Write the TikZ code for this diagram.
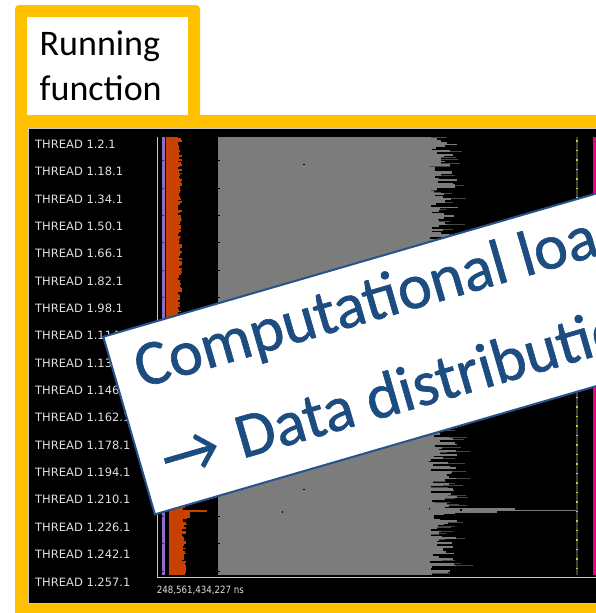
\documentclass[tikz,border=0pt]{standalone}
\usepackage{fontspec}
\newfontfamily\calib{Carlito}
\newfontfamily\calibnote{Carlito}[FakeBold=1]
\newfontfamily\tracefont{DejaVu Sans}
\newfontfamily\axisfont{DejaVu Sans}[FakeStretch=0.865]

\definecolor{frameyellow}{RGB}{255,192,0}
\definecolor{notenavy}{RGB}{28,76,128}
\definecolor{noteedge}{RGB}{40,82,140}
\definecolor{burstgray}{RGB}{124,124,124}
\definecolor{edgegray}{RGB}{70,70,70}
\definecolor{mpiorange}{RGB}{200,65,0}
\definecolor{lavender}{RGB}{140,110,200}
\definecolor{axisgray}{RGB}{200,200,200}
\definecolor{labelgray}{RGB}{225,225,225}
\definecolor{limegreen}{RGB}{200,215,0}
\definecolor{railgray}{RGB}{64,64,64}

\tikzset{
  tabtext/.style={anchor=base west, inner sep=0pt, text=black,
    font=\calib\fontsize{36}{40}\selectfont},
  threadlabel/.style={anchor=base west, inner sep=0pt, text=labelgray,
    font=\tracefont\fontsize{11.5}{12}\selectfont},
  notebox/.style={fill=white, draw=noteedge, line width=2pt},
  notetext/.style={anchor=base west, inner sep=0pt, text=notenavy,
    font=\calibnote\fontsize{64}{70}\selectfont},
}

\begin{document}
\begin{tikzpicture}[x=1pt,y=-1pt]
\useasboundingbox (0,0) rectangle (596,613);
\clip (0,0) rectangle (596,613);
\fill[white] (0,0) rectangle (596,613);

% yellow frame with its title tab
\fill[frameyellow, rounded corners=4pt] (15,5) rectangle (200,130);
\fill[frameyellow] (15,115) rectangle (620,630);
\fill[white] (27,17) rectangle (188,115);
\node[tabtext] (tab1) at (39.5,55) {Running};
\node[tabtext] (tab2) at (39.5,100) {function};

% trace viewer window
\fill[black] (27.5,127.5) rectangle (620,603.5);
\draw[axisgray, line width=1pt] (28,128) rectangle (620,603);

% thread labels
\foreach \t [count=\k from 0] in {2,18,34,50,66,82,98,114,130,146,162,178,194,210,226,242,257}{
  \node[threadlabel] (thr\t) at (35,148.3+27.36*\k) {THREAD 1.\t.1};
}

% per-thread states: orange start-up phase, grey computing burst
\pgfmathsetseed{2024}
\foreach \i in {0,...,256}{
  \pgfmathsetmacro{\ya}{136.7+1.705*\i}
  \pgfmathsetmacro{\gr}{428+30*rnd}
  \pgfmathsetmacro{\dk}{rnd>0.6 ? \gr+5+15*rnd : \gr}
  \fill[burstgray] (218,\ya) rectangle (\gr,\ya+1.75);
  \fill[edgegray] (\gr,\ya+0.3) rectangle (\dk,\ya+1.3);
  \pgfmathsetmacro{\ol}{\ya<400 ? 165.5 : 169}
  \pgfmathsetmacro{\orr}{(\ya<400 ? 177.5 : 182)+5*rnd}
  \fill[mpiorange] (\ol,\ya) rectangle (\orr,\ya+1.75);
}
% long-running thread
\fill[mpiorange] (180,509.5) rectangle (207,512);
\fill[mpiorange] (180,512) rectangle (190,518);
\fill[burstgray] (430,508.3) rectangle (515,511);
\fill[burstgray] (430,511) rectangle (497,513);
\draw[burstgray, line width=0.9pt] (515,510.7) -- (577,510.7);

% small markers inside the burst
\foreach \p in {(304,164.3),(304,489.3),(282.3,511.7),(460.7,510)}{
  \fill[black] \p ++(-0.8,-0.8) rectangle ++(1.6,1.6);
}

% purple lane and row ticks
\fill[lavender] (162.3,136.7) rectangle (165,575);
\foreach \k in {0,...,15}{
  \fill[black] (218,160.3+27.36*\k) rectangle (220,161.3+27.36*\k);
  \fill[black!60!lavender] (161.8,160.3+27.36*\k) rectangle (164,161.3+27.36*\k);
}

% axes and time stamp
\draw[axisgray, line width=1.3pt] (157.7,136.7) -- (157.7,577.5) -- (620,577.5);
\node[anchor=base west, inner sep=0pt, text=labelgray,
  font=\axisfont\fontsize{10}{10}\selectfont] (tstamp) at (156.7,593.3) {248,561,434,227 ns};

% right-hand rail and magenta lane
\fill[railgray] (576,136.7) rectangle (578.3,575);
\draw[limegreen, line width=1.5pt, dash pattern=on 1.5pt off 8pt] (577.2,140) -- (577.2,575);
\fill[magenta] (593,136.7) rectangle (620,575);

% tilted note
\begin{scope}[shift={(103.3,336.7)}, rotate=16.2, transform shape]
  \draw[notebox] (0,0) rectangle (720,185);
  \node[notetext] (note1) at (22,60) {Computational load};
  \node[notetext] (note2) at (22,156) {→ \hspace{5pt}Data distribution};
\end{scope}
\end{tikzpicture}
\end{document}
